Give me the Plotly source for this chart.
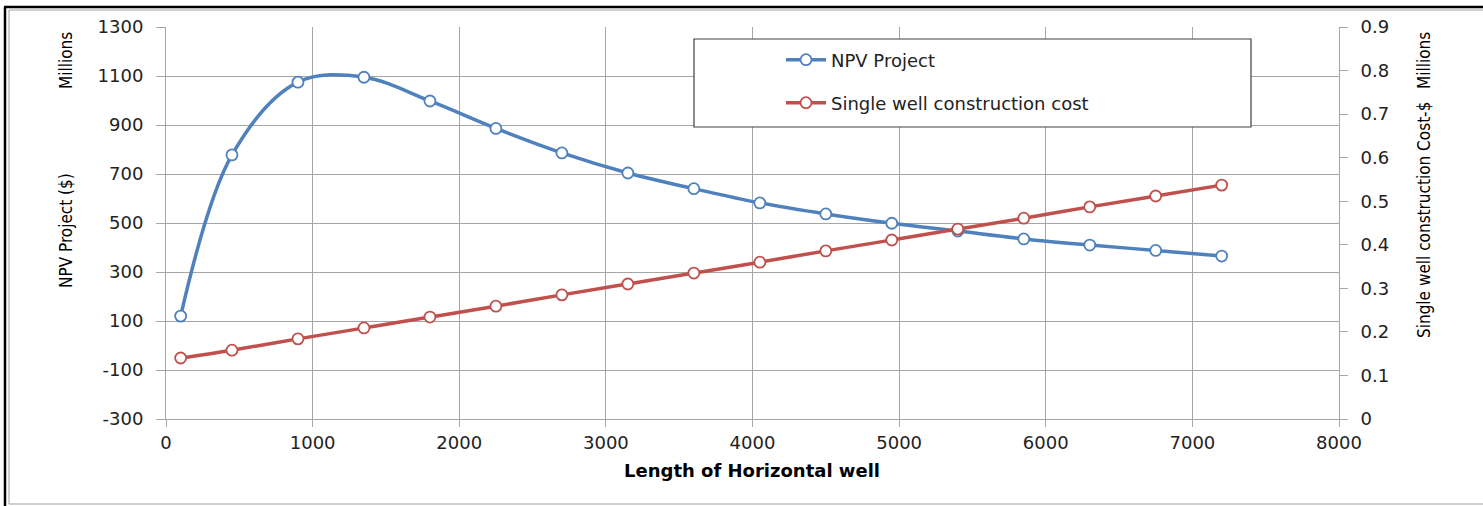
import plotly.graph_objects as go

length_m = [100, 450, 900, 1350, 1800, 2250, 2700, 3150, 3600, 4050, 4500, 4950, 5400, 5850, 6300, 6750, 7200]
npv_project = [120, 778, 1075, 1095, 998, 886, 786, 704, 640, 582, 537, 499, 467, 435, 410, 388, 365]
well_cost = [0.140, 0.158, 0.184, 0.209, 0.234, 0.259, 0.285, 0.310, 0.335, 0.360, 0.386, 0.411, 0.436, 0.461, 0.487, 0.512, 0.537]
x_ticks = [0, 1000, 2000, 3000, 4000, 5000, 6000, 7000, 8000]
npv_ticks = [-300, -100, 100, 300, 500, 700, 900, 1100, 1300]
npv_tick_labels = ["-300", "-100", "100", "300", "500", "700", "900", "1100", "1300"]
cost_ticks = [0, 0.1, 0.2, 0.3, 0.4, 0.5, 0.6, 0.7, 0.8, 0.9]
cost_tick_labels = ["0", "0.1", "0.2", "0.3", "0.4", "0.5", "0.6", "0.7", "0.8", "0.9"]

W, H = 1483, 506
L, R, T, B = 166, 1339, 27, 419

def px(x):
    return (x - L) / (R - L)

def py(y):
    return (B - y) / (B - T)

BLUE = "#4F81BD"
RED = "#C0504D"
TICKFONT = dict(family="DejaVu Sans", size=18, color="#222222")
NARROW = "Liberation Sans Narrow, DejaVu Sans Condensed, Arial Narrow, sans-serif"

fig = go.Figure()
fig.add_trace(go.Scatter(
    x=length_m, y=npv_project, name="NPV Project", mode="lines+markers",
    line=dict(color=BLUE, width=3.5, shape="spline", smoothing=1.0),
    marker=dict(symbol="circle", size=11, color="white", line=dict(color=BLUE, width=1.8)),
    legend="legend", cliponaxis=False,
))
fig.add_trace(go.Scatter(
    x=length_m, y=well_cost, name="Single well construction cost", mode="lines+markers",
    line=dict(color=RED, width=3.5, shape="spline", smoothing=1.0),
    marker=dict(symbol="circle", size=11, color="white", line=dict(color=RED, width=1.8)),
    yaxis="y2", legend="legend2", cliponaxis=False,
))

shapes = [
    dict(type="rect", xref="paper", yref="paper", x0=px(694), x1=px(1251), y0=py(127), y1=py(39),
         fillcolor="white", line=dict(color="#404040", width=1.2), layer="above"),
    dict(type="line", xref="paper", yref="paper", x0=px(4), x1=px(1483), y0=py(7), y1=py(7),
         line=dict(color="black", width=2.5)),
    dict(type="line", xref="paper", yref="paper", x0=px(5), x1=px(5), y0=py(7), y1=py(506),
         line=dict(color="black", width=2.5)),
    dict(type="line", xref="paper", yref="paper", x0=px(9), x1=px(1483), y0=py(10), y1=py(10),
         line=dict(color="#a0a0a0", width=1)),
    dict(type="line", xref="paper", yref="paper", x0=px(9), x1=px(9), y0=py(10), y1=py(504),
         line=dict(color="#a0a0a0", width=1)),
    dict(type="line", xref="paper", yref="paper", x0=px(9), x1=px(1483), y0=py(504), y1=py(504),
         line=dict(color="#a0a0a0", width=1)),
]

def vtext(text, x, y, size=17):
    return dict(text=text, xref="paper", yref="paper", x=px(x), y=py(y), textangle=-90,
                showarrow=False, font=dict(family=NARROW, size=size, color="black"),
                xanchor="center", yanchor="middle")

annotations = [
    vtext("Millions", 66, 61),
    vtext("NPV Project ($)", 66, 231),
    vtext("Millions", 1424, 61),
    vtext("Single well construction Cost-$", 1424, 220),
    dict(text="<b>Length of Horizontal well</b>", xref="paper", yref="paper", x=px(752), y=py(470),
         showarrow=False, font=dict(family="DejaVu Sans", size=18, color="black"), xanchor="center", yanchor="middle"),
]

legend_common = dict(bgcolor="rgba(0,0,0,0)", borderwidth=0, xanchor="left", yanchor="middle",
                     font=dict(family="DejaVu Sans", size=18, color="#222222"), itemwidth=40)

fig.update_layout(
    width=W, height=H,
    margin=dict(l=L, r=W - R, t=T, b=H - B, pad=0),
    paper_bgcolor="white", plot_bgcolor="white",
    showlegend=True,
    legend=dict(x=px(781), y=py(60), **legend_common),
    legend2=dict(x=px(781), y=py(103), **legend_common),
    xaxis=dict(range=[0, 8000], tickvals=x_ticks, showgrid=True, gridcolor="#a6a6a6",
               gridwidth=1, showline=True, linecolor="#a6a6a6", linewidth=1, ticks="outside", ticklen=7,
               tickcolor="#a6a6a6", tickfont=TICKFONT, zeroline=False, mirror=False, ticklabelstandoff=0),
    yaxis=dict(range=[-300, 1300], tickvals=npv_ticks, ticktext=npv_tick_labels, showgrid=True, gridcolor="#a6a6a6",
               gridwidth=1, showline=True, linecolor="#a6a6a6", linewidth=1, ticks="outside", ticklen=9,
               tickcolor="#a6a6a6", tickfont=TICKFONT, zeroline=False, ticklabelstandoff=9),
    yaxis2=dict(range=[0, 0.9], tickvals=cost_ticks, ticktext=cost_tick_labels,
                overlaying="y", side="right", showgrid=False, showline=True, linecolor="#a6a6a6", linewidth=1,
                ticks="outside", ticklen=8, tickcolor="#a6a6a6", tickfont=TICKFONT, zeroline=False,
                ticklabelstandoff=9),
    shapes=shapes,
    annotations=annotations,
)

fig.write_html("out.html", config={"displayModeBar": False},
               post_script="document.body.style.margin='0px';document.body.style.overflow='hidden';")
